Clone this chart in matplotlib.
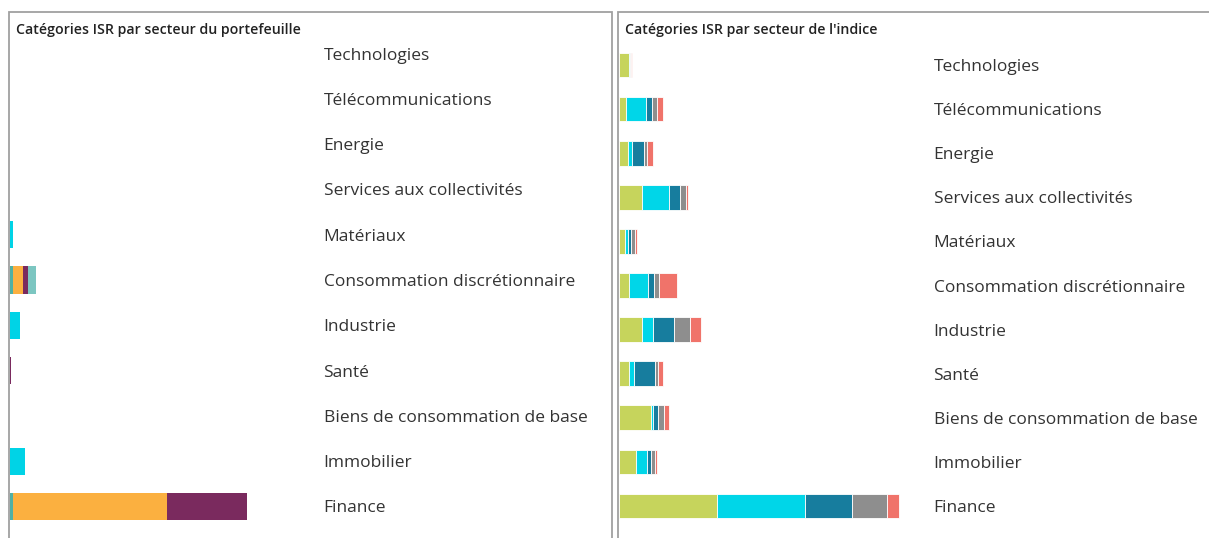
import matplotlib
matplotlib.use("Agg")
import matplotlib.pyplot as plt
from matplotlib.patches import Rectangle

# ---------------------------------------------------------------- data ----
sectors = ["Technologies", "Télécommunications", "Energie",
           "Services aux collectivités", "Matériaux",
           "Consommation discrétionnaire", "Industrie", "Santé",
           "Biens de consommation de base", "Immobilier", "Finance"]

# portefeuille (% du poids), one list per ISR category
pf_teal = [0, 0, 0, 0, 0, 0.9, 0, 0, 0, 0, 1.0]
pf_cyan = [0, 0, 0, 0, 1.0, 0, 3.4, 0, 0, 5.1, 0]
pf_orange = [0, 0, 0, 0, 0, 3.6, 0, 0, 0, 0, 52.6]
pf_purple = [0, 0, 0, 0, 0, 1.7, 0, 0.5, 0, 0, 27.4]
pf_light = [0, 0, 0, 0, 0, 2.7, 0, 0, 0, 0, 0]

# indice (% du poids)
ix_green = [1.4, 1.0, 1.2, 3.1, 0.8, 1.4, 3.2, 1.4, 4.4, 2.3, 13.4]
ix_cyan = [0.1, 2.7, 0.6, 3.8, 0.4, 2.6, 1.4, 0.6, 0.3, 1.6, 12.1]
ix_teal = [0.0, 0.8, 1.6, 1.5, 0.5, 0.8, 3.0, 2.9, 0.7, 0.5, 6.5]
ix_gray = [0.2, 0.7, 0.5, 0.8, 0.5, 0.7, 2.1, 0.4, 0.8, 0.5, 4.8]
ix_salmon = [0.1, 0.8, 0.8, 0.3, 0.3, 2.4, 1.6, 0.7, 0.6, 0.3, 1.6]

PF_SERIES = [(pf_teal, "#4fb0a4"), (pf_cyan, "#00d3e6"), (pf_orange, "#fbb040"),
             (pf_purple, "#7a2a5e"), (pf_light, "#7cc6c1")]
IX_SERIES = [(ix_green, "#c6d45c"), (ix_cyan, "#00d6e8"), (ix_teal, "#177d9e"),
             (ix_gray, "#8e8e8e"), (ix_salmon, "#f0736a")]

W, H = 1209, 538
FONT = "Open Sans"


def fx(px):
    return px / W


def fy(px):
    return 1 - px / H


def panel(fig, box, ax_x, ax_y, xmax, series, title, height, edge):
    x0, y0, x1, y1 = box
    fig.add_artist(Rectangle((fx(x0), fy(y1)), fx(x1 - x0), (y1 - y0) / H,
                             transform=fig.transFigure, fill=False,
                             edgecolor="#a0a0a0", linewidth=1.3))
    fig.text(fx(x0 + 7), fy(y0 + 18), title, fontsize=10.2, family=FONT,
             fontweight="semibold", color="#222222", va="center", ha="left")

    ax = fig.add_axes([fx(ax_x[0]), fy(ax_y[1]), fx(ax_x[1] - ax_x[0]),
                       (ax_y[1] - ax_y[0]) / H])
    ypos = list(range(len(sectors)))
    left = [0.0] * len(sectors)
    for vals, color in series:
        ax.barh(ypos, vals, left=left, height=height, color=color,
                edgecolor=edge, linewidth=0.6 if edge != "none" else 0)
        left = [a + b for a, b in zip(left, vals)]
    ax.set_xlim(0, xmax)
    ax.set_ylim(len(sectors) - 0.5, -0.5)
    ax.set_xticks([])
    ax.set_yticks(ypos)
    ax.set_yticklabels(sectors, fontsize=12.5, family=FONT, color="#333333")
    ax.yaxis.tick_right()
    ax.tick_params(axis="y", length=0, pad=4)
    for s in ax.spines.values():
        s.set_visible(False)
    ax.patch.set_alpha(0)
    return ax


fig = plt.figure(figsize=(W / 100, H / 100), dpi=100)
fig.patch.set_facecolor("white")

panel(fig, (9, 12, 612, 560), (10, 318), (31.0, 529.0), 105.3, PF_SERIES,
      "Catégories ISR par secteur du portefeuille", 0.6, "none")
panel(fig, (618, 12, 1230, 560), (619, 928), (43.0, 528.0), 42.4, IX_SERIES,
      "Catégories ISR par secteur de l'indice", 0.56, "white")

fig.savefig("out.png", dpi=100, facecolor="white")
